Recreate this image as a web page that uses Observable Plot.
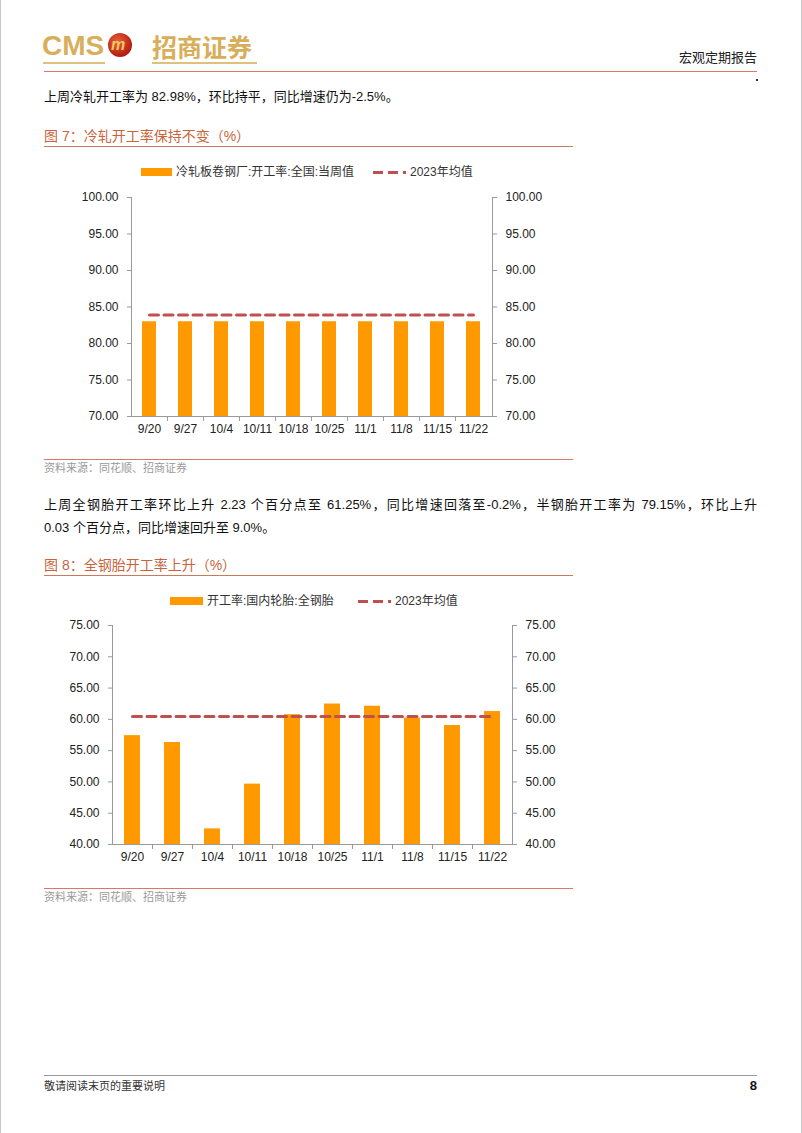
<!DOCTYPE html>
<html><head><meta charset="utf-8">
<script src="https://cdn.jsdelivr.net/npm/d3@7"></script>
<script src="https://cdn.jsdelivr.net/npm/@observablehq/plot@0.6"></script>
<style>
body{margin:0;width:802px;height:1133px;position:relative;background:#fff;font-family:"Liberation Sans",Arial,"Noto Sans CJK SC",sans-serif;overflow:hidden;color:#111}
.a{position:absolute;white-space:nowrap}
.body{font-size:13px;line-height:16px;color:#111}
.ttl{font-size:14px;color:#c8643c;line-height:18px}
.rule{position:absolute;height:0}
.src{font-size:11px;color:#9a9a9a;line-height:14px}
.leg{font-size:12px;color:#333;line-height:14px}
.sw{position:absolute;height:8px;background:#ff9900}
.dash{position:absolute;height:3px;background:repeating-linear-gradient(90deg,#c0504d 0 10px,transparent 10px 15px)}
</style></head><body>
<div class="a" style="left:0;top:0;width:1px;height:1133px;background:#c8c8c8"></div>
<div class="a" style="left:801px;top:0;width:1px;height:1133px;background:#c8c8c8"></div>

<!-- header -->
<div class="a" style="left:42px;top:31px;font-size:28px;font-weight:bold;color:#d9ae5a;line-height:30px;font-family:'Liberation Sans',Arial,sans-serif">CMS</div>
<div class="a" style="left:108px;top:33px;width:24px;height:24px;border-radius:50%;background:radial-gradient(circle at 40% 35%,#e8603a,#b51d12 70%,#7a1008);"></div>
<div class="a" style="left:111px;top:35px;font-size:16px;font-weight:bold;font-style:italic;color:#f3c860;line-height:20px">m</div>
<div class="a" style="left:152px;top:31px;font-size:25px;font-weight:bold;color:#d9ae5a;line-height:30px;font-family:'Noto Sans CJK SC',sans-serif">招商证券</div>
<div class="rule" style="left:43px;top:62px;width:62px;border-top:2px solid #e0c07a"></div>
<div class="rule" style="left:152px;top:62px;width:105px;border-top:2px solid #e0c07a"></div>
<div class="a" style="right:45px;top:47px;font-size:13px;color:#222;font-family:'Noto Sans CJK SC',sans-serif">宏观定期报告</div>
<div class="rule" style="left:44px;top:71px;width:713px;border-top:1.5px solid #d9776b"></div>
<div class="a" style="left:756px;top:79px;width:2px;height:2px;background:#333"></div>

<div class="a body" style="left:44px;top:89px">上周冷轧开工率为 82.98%，环比持平，同比增速仍为-2.5%。</div>

<div class="a ttl" style="left:44px;top:127px">图 7：冷轧开工率保持不变（%）</div>
<div class="rule" style="left:44px;top:146px;width:529px;border-top:1.5px solid #c87a5a"></div>

<div class="sw" style="left:141px;top:168px;width:31px"></div>
<div class="a leg" style="left:176px;top:165px">冷轧板卷钢厂:开工率:全国:当周值</div>
<div class="dash" style="left:373px;top:171px;width:33px"></div>
<div class="a leg" style="left:410px;top:165px">2023年均值</div>

<div id="c1" class="a" style="left:0;top:185px"></div>

<div class="rule" style="left:44px;top:459px;width:529px;border-top:1.5px solid #d9776b"></div>
<div class="a src" style="left:44px;top:461px">资料来源：同花顺、招商证券</div>

<div class="a body" style="left:44px;top:497px;width:713px;text-align:justify;text-align-last:justify">上周全钢胎开工率环比上升 2.23 个百分点至 61.25%，同比增速回落至-0.2%，半钢胎开工率为 79.15%，环比上升</div>
<div class="a body" style="left:44px;top:520px">0.03 个百分点，同比增速回升至 9.0%。</div>

<div class="a ttl" style="left:44px;top:556px">图 8：全钢胎开工率上升（%）</div>
<div class="rule" style="left:44px;top:575px;width:529px;border-top:1.5px solid #c87a5a"></div>

<div class="sw" style="left:170px;top:597px;width:33px"></div>
<div class="a leg" style="left:207px;top:594px">开工率:国内轮胎:全钢胎</div>
<div class="dash" style="left:358px;top:600px;width:33px"></div>
<div class="a leg" style="left:395px;top:594px">2023年均值</div>

<div id="c2" class="a" style="left:0;top:613px"></div>

<div class="rule" style="left:44px;top:888px;width:529px;border-top:1.5px solid #d9776b"></div>
<div class="a src" style="left:44px;top:890px">资料来源：同花顺、招商证券</div>

<div class="rule" style="left:44px;top:1075px;width:713px;border-top:1px solid #999"></div>
<div class="a" style="left:44px;top:1079px;font-size:11px;color:#333;line-height:14px">敬请阅读末页的重要说明</div>
<div class="a" style="right:45px;top:1078px;font-size:13px;font-weight:bold;color:#111;line-height:16px">8</div>

<script>
const dates = ["9/20","9/27","10/4","10/11","10/18","10/25","11/1","11/8","11/15","11/22"];
const coldRolledRate = [82.98,82.98,82.98,82.98,82.98,82.98,82.98,82.98,82.98,82.98];
const coldRolledAvg2023 = 83.9;
const allSteelTireRate = [57.4,56.3,42.5,49.65,60.75,62.45,62.1,60.2,59.02,61.25];
const allSteelTireAvg2023 = 60.45;
const yTicks1 = [70,75,80,85,90,95,100];
const yTicks2 = [40,45,50,55,60,65,70,75];

function chart(values, avg, ticks, ml, mr) {
  const W = 802;
  const data = dates.map((d, i) => ({date: d, v: values[i], avg}));
  const lo = ticks[0], hi = ticks[ticks.length - 1];
  const step = (W - ml - mr) / dates.length;
  const axisStyle = {stroke: "#9a9a9a", fill: "#222", tickSize: 4, tickPadding: 9, ticks, tickFormat: d => d.toFixed(2)};
  return Plot.plot({
    width: W, height: 260,
    marginLeft: ml, marginRight: mr, marginTop: 12, marginBottom: 29,
    style: {fontFamily: "Liberation Sans, Arial, sans-serif", fontSize: "12px", background: "transparent", overflow: "visible"},
    x: {domain: dates, paddingInner: 0.6, paddingOuter: 0.3, label: null},
    y: {domain: [lo, hi], label: null},
    marks: [
      Plot.barY(data, {x: "date", y1: lo, y2: "v", fill: "#ff9900"}),
      Plot.lineY(data, {x: "date", y: "avg", stroke: "#c0504d", strokeWidth: 3, strokeDasharray: "9,5.5"}),
      Plot.ruleY([lo], {stroke: "#9a9a9a"}),
      Plot.frame({anchor: "left", stroke: "#9a9a9a"}),
      Plot.frame({anchor: "right", stroke: "#9a9a9a"}),
      Plot.axisY({anchor: "left", ...axisStyle}),
      Plot.axisY({anchor: "right", ...axisStyle}),
      Plot.axisX({tickSize: 0, tickPadding: 8, fill: "#222", label: null}),
      Plot.axisX(dates.slice(1), {tickSize: 5, stroke: "#9a9a9a", tickFormat: () => "", dx: -step / 2, label: null})
    ]
  });
}

document.getElementById("c1").append(chart(coldRolledRate, coldRolledAvg2023, yTicks1, 131, 310));
document.getElementById("c2").append(chart(allSteelTireRate, allSteelTireAvg2023, yTicks2, 112, 290));
</script>
</body></html>
